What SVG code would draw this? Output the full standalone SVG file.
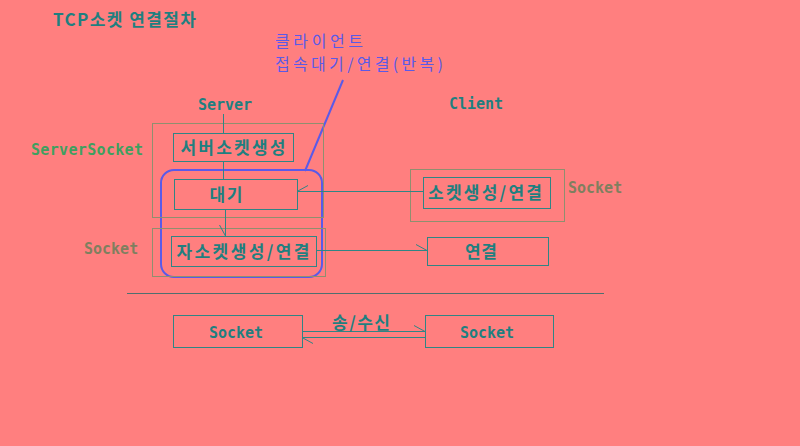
<svg xmlns="http://www.w3.org/2000/svg" width="800" height="446" viewBox="0 0 800 446">
<defs>
<style>
.t{font-family:"DejaVu Sans Mono","Noto Sans CJK KR",monospace;font-size:15px;font-weight:bold;fill:#1f7f80}
.k{font-family:"Noto Sans CJK KR","DejaVu Sans",sans-serif;font-size:17px;font-weight:bold;fill:#1f7f80}
.n{font-family:"Noto Sans CJK KR",sans-serif;font-size:16px;fill:#5a5ae8}
.box{fill:none;stroke:#2f8585;stroke-width:1}
.grp{fill:none;stroke:#8f8f6f;stroke-width:1}
.con{fill:none;stroke:#2f8585;stroke-width:1}
.blue{fill:none;stroke:#5a5ae8;stroke-width:2}
</style>
<marker id="half" markerWidth="14" markerHeight="16" refX="12" refY="8" orient="auto" markerUnits="userSpaceOnUse">
<path d="M12,8 L1,2" fill="none" stroke="#2f8585" stroke-width="1"/>
</marker>
<marker id="halfB" markerWidth="14" markerHeight="16" refX="12" refY="8" orient="auto" markerUnits="userSpaceOnUse">
<path d="M12,8 L1,14" fill="none" stroke="#2f8585" stroke-width="1"/>
</marker>
</defs>
<rect width="800" height="446" fill="#ff7f7f"/>
<text x="53" y="26" class="k" font-size="16" letter-spacing="1.4">TCP소켓 연결절차</text>
<g id="note">
<text x="275" y="47" class="n" textLength="88" lengthAdjust="spacing">클라이언트</text>
<text x="275" y="70" class="n" textLength="168" lengthAdjust="spacing">접속대기/연결(반복)</text>
<line x1="343" y1="80" x2="305" y2="171" class="blue"/>
<rect x="161" y="170" width="161" height="107" rx="13" class="blue"/>
</g>
<text x="225" y="110" class="t" text-anchor="middle">Server</text>
<text x="476" y="109" class="t" text-anchor="middle">Client</text>
<g id="serverSocketGroup">
<rect x="152.5" y="123.5" width="171" height="94" class="grp"/>
<text x="31" y="155" class="t" style="fill:#3f9f5f" textLength="112" lengthAdjust="spacing">ServerSocket</text>
</g>
<g id="socketGroup">
<rect x="152.5" y="228.5" width="173" height="48" class="grp"/>
<text x="84" y="254" class="t" style="fill:#7f7f5f">Socket</text>
</g>
<g id="clientSocketGroup">
<rect x="410.5" y="169.5" width="154" height="52" class="grp"/>
<text x="568" y="193" class="t" style="fill:#7f7f5f">Socket</text>
</g>
<g id="connectors">
<line x1="223.5" y1="114" x2="223.5" y2="133" class="con"/>
<line x1="223.5" y1="161" x2="223.5" y2="179" class="con"/>
<line x1="225.5" y1="209" x2="225.5" y2="236" class="con" marker-end="url(#halfB)"/>
<line x1="423" y1="191.5" x2="297" y2="191.5" class="con" marker-end="url(#halfB)"/>
<line x1="316" y1="250.5" x2="427" y2="250.5" class="con" marker-end="url(#half)"/>
<line x1="127" y1="293.5" x2="604" y2="293.5" stroke="#4f6f6f" stroke-width="1"/>
<line x1="302" y1="331.5" x2="425" y2="331.5" class="con" marker-end="url(#half)"/>
<line x1="425" y1="337.5" x2="302" y2="337.5" class="con" marker-end="url(#half)"/>
</g>
<g id="serverCreate">
<rect x="173.5" y="133.5" width="120" height="28" class="box"/>
<text x="233" y="154" class="k" text-anchor="middle" textLength="105" lengthAdjust="spacing">서버소켓생성</text>
</g>
<g id="wait">
<rect x="174.5" y="179.5" width="123" height="30" class="box"/>
<text x="226" y="201" class="k" text-anchor="middle" textLength="33" lengthAdjust="spacing">대기</text>
</g>
<g id="childSocket">
<rect x="171.5" y="236.5" width="145" height="30" class="box"/>
<text x="243" y="258" class="k" text-anchor="middle" textLength="133" lengthAdjust="spacing">자소켓생성/연결</text>
</g>
<g id="clientCreate">
<rect x="423.5" y="177.5" width="127" height="31" class="box"/>
<text x="485" y="199" class="k" text-anchor="middle" textLength="114" lengthAdjust="spacing">소켓생성/연결</text>
</g>
<g id="connect">
<rect x="427.5" y="237.5" width="121" height="28" class="box"/>
<text x="481" y="258" class="k" text-anchor="middle" textLength="32" lengthAdjust="spacing">연결</text>
</g>
<g id="socketLeft">
<rect x="173.5" y="315.5" width="129" height="32" class="box"/>
<text x="236" y="338" class="t" text-anchor="middle">Socket</text>
</g>
<g id="socketRight">
<rect x="425.5" y="315.5" width="128" height="32" class="box"/>
<text x="487" y="338" class="t" text-anchor="middle">Socket</text>
</g>
<text x="361" y="329" class="k" text-anchor="middle" textLength="58" lengthAdjust="spacing">송/수신</text>
</svg>
